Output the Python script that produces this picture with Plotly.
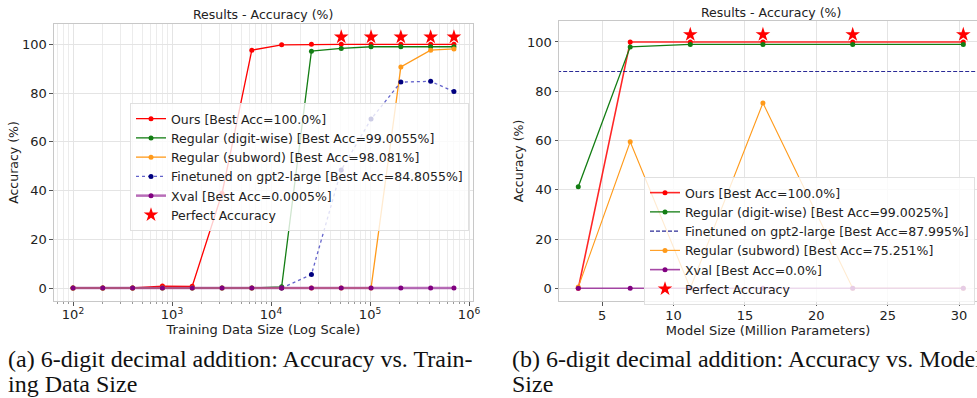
import plotly.graph_objects as go

# ---------------- data: left panel (training data size) ----------------
train_sizes = [100, 200, 400, 800, 1600, 3200, 6400, 12800, 25600, 51200, 102400, 204800, 409600, 704000]
ours_a = [0, 0, 0, 0.8, 0.7, 38.9, 97.6, 99.8, 100, 100, 100, 100, 100, 100]
digit_a = [0, 0, 0, 0, 0, 0, 0, 0.5, 97.2, 98.3, 99.0, 99.0, 99.0, 99.0]
subword_a = [0, 0, 0, 0, 0, 0, 0, 0, 0, 0, 0, 90.7, 97.6, 98.1]
ft_sizes = [12800, 25600, 51200, 102400, 204800, 409600, 704000]
ft_a = [0, 5.5, 48.4, 69.3, 84.5, 84.8, 80.6]
xval_a = [0] * 14
perfect_x_a = [51200, 102400, 204800, 409600, 704000]
perfect_y_a = [103, 103, 103, 103, 103]

# ---------------- data: right panel (model size) ----------------
model_sizes = [3.32, 6.96, 11.17, 16.26, 22.55, 30.3]
ours_b = [0, 100, 100, 100, 100, 100]
digit_b = [41.2, 98.0, 99.0, 99.0, 99.0, 99.0]
ft_best_b = 88.0
ft_span_b = [1.0, 32.0]
subword_b = [0.5, 59.5, 0, 75.25, 0, 0]
xval_b = [0, 0, 0, 0, 0, 0]
perfect_x_b = [11.17, 16.26, 22.55, 30.3]
perfect_y_b = [103, 103, 103, 103]

labels_a = ["Ours [Best Acc=100.0%]", "Regular (digit-wise) [Best Acc=99.0055%]",
            "Regular (subword) [Best Acc=98.081%]", "Finetuned on gpt2-large [Best Acc=84.8055%]",
            "Xval [Best Acc=0.0005%]", "Perfect Accuracy"]
labels_b = ["Ours [Best Acc=100.0%]", "Regular (digit-wise) [Best Acc=99.0025%]",
            "Finetuned on gpt2-large [Best Acc=87.995%]", "Regular (subword) [Best Acc=75.251%]",
            "Xval [Best Acc=0.0%]", "Perfect Accuracy"]

RED, GREEN, ORANGE, NAVY, PURPLE = "#ff0000", "#137d13", "#ff9a1a", "#00007f", "#800080"
FONT = "DejaVu Sans"

fig = go.Figure()

def line(x, y, name, color, xa, ya, legend, dash="solid", width=1.3, msize=5, lcolor=None):
    fig.add_trace(go.Scatter(
        x=x, y=y, name=name, mode="lines+markers", xaxis=xa, yaxis=ya, legend=legend,
        line=dict(color=lcolor or color, width=width, dash=dash),
        marker=dict(color=color, size=msize, symbol="circle")))

# left panel
line(train_sizes, ours_a, labels_a[0], RED, "x", "y", "legend")
line(train_sizes, digit_a, labels_a[1], GREEN, "x", "y", "legend")
line(train_sizes, subword_a, labels_a[2], ORANGE, "x", "y", "legend")
line(ft_sizes, ft_a, labels_a[3], NAVY, "x", "y", "legend", dash="dot", lcolor="rgba(60,60,190,0.8)")
line(train_sizes, xval_a, labels_a[4], PURPLE, "x", "y", "legend", width=2.5, lcolor="rgba(160,60,160,0.75)")
fig.add_trace(go.Scatter(x=perfect_x_a, y=perfect_y_a, name=labels_a[5], mode="markers",
                         xaxis="x", yaxis="y", legend="legend",
                         marker=dict(color=RED, size=11, symbol="star")))

# right panel
line(model_sizes, ours_b, labels_b[0], RED, "x2", "y2", "legend2", lcolor="rgba(255,0,0,0.85)", width=1.6)
line(model_sizes, digit_b, labels_b[1], GREEN, "x2", "y2", "legend2")
fig.add_trace(go.Scatter(x=ft_span_b, y=[ft_best_b, ft_best_b], name=labels_b[2], mode="lines",
                         xaxis="x2", yaxis="y2", legend="legend2",
                         line=dict(color="rgba(20,20,140,0.9)", width=1.1, dash="4px,2px")))
line(model_sizes, subword_b, labels_b[3], ORANGE, "x2", "y2", "legend2", width=1.1)
line(model_sizes, xval_b, labels_b[4], PURPLE, "x2", "y2", "legend2", width=1.6, lcolor="rgba(150,40,150,0.85)")
fig.add_trace(go.Scatter(x=perfect_x_b, y=perfect_y_b, name=labels_b[5], mode="markers",
                         xaxis="x2", yaxis="y2", legend="legend2",
                         marker=dict(color=RED, size=11, symbol="star")))

axis_common = dict(showline=True, linecolor="#c8c8c8", linewidth=1, mirror=True,
                   showgrid=True, gridcolor="#e4e4e4", gridwidth=1, zeroline=False,
                   ticks="outside", ticklen=3.5, tickcolor="#555", automargin=False,
                   tickfont=dict(family=FONT, size=13, color="#222"))

decades = [100, 1000, 10000, 100000, 1000000]
minor_vals = [m * d for d in [10, 100, 1000, 10000, 100000, 1000000] for m in range(2, 10)]

fig.update_layout(
    width=977, height=398, margin=dict(l=0, r=0, t=0, b=0),
    paper_bgcolor="white", plot_bgcolor="white",
    font=dict(family=FONT, size=12, color="#222"),
    xaxis=dict(axis_common, type="log", domain=[0.05527, 0.48413], anchor="y",
               range=[1.808, 6.04], tickmode="array", tickvals=decades, ticklabelstandoff=-2,
               ticktext=["10<sup>2</sup>", "10<sup>3</sup>", "10<sup>4</sup>", "10<sup>5</sup>", "10<sup>6</sup>"],
               minor=dict(tickmode="array", tickvals=minor_vals, showgrid=True,
                          gridcolor="#ececec", ticks="outside", ticklen=2, tickcolor="#999"),
               title=dict(text="Training Data Size (Log Scale)", standoff=1,
                          font=dict(family=FONT, size=13))),
    yaxis=dict(axis_common, domain=[0.2437, 0.9397], anchor="x", range=[-5.33, 108.33],
               tickvals=[0, 20, 40, 60, 80, 100],
               title=dict(text="Accuracy (%)", standoff=0, font=dict(family=FONT, size=12.5))),
    xaxis2=dict(axis_common, domain=[0.57216, 1.0], anchor="y2", range=[1.97, 31.26],
                tickvals=[5, 10, 15, 20, 25, 30], ticklabelstandoff=-1,
                title=dict(text="Model Size (Million Parameters)", standoff=1,
                           font=dict(family=FONT, size=13))),
    yaxis2=dict(axis_common, domain=[0.2437, 0.9472], anchor="x2", range=[-5.16, 108.5],
                tickvals=[0, 20, 40, 60, 80, 100],
                title=dict(text="Accuracy (%)", standoff=0, font=dict(family=FONT, size=12.5))),
    legend=dict(x=130 / 977, y=1 - 103 / 398, xanchor="left", yanchor="top",
                bgcolor="rgba(255,255,255,0.8)", bordercolor="#e0e0e0", borderwidth=1,
                font=dict(family=FONT, size=12.5), tracegroupgap=0, itemwidth=30),
    legend2=dict(x=644 / 977, y=1 - 177 / 398, xanchor="left", yanchor="top",
                 bgcolor="rgba(255,255,255,0.8)", bordercolor="#e0e0e0", borderwidth=1,
                 font=dict(family=FONT, size=12.5), tracegroupgap=0, itemwidth=30),
    showlegend=True,
)

cap_font = dict(family="Liberation Serif", size=24, color="#111")
annotations = [
    dict(text="Results - Accuracy (%)", x=263 / 977, y=1 - 15 / 398, xref="paper", yref="paper",
         xanchor="center", yanchor="middle", showarrow=False, font=dict(family=FONT, size=12.5)),
    dict(text="Results - Accuracy (%)", x=771 / 977, y=1 - 13 / 398, xref="paper", yref="paper",
         xanchor="center", yanchor="middle", showarrow=False, font=dict(family=FONT, size=12.5)),
    dict(text="(a) 6-digit decimal addition: Accuracy vs. Train-",
         x=6 / 977, y=1 - 359 / 398, xref="paper", yref="paper", xanchor="left", yanchor="middle",
         showarrow=False, font=cap_font),
    dict(text="ing Data Size",
         x=6 / 977, y=1 - 384 / 398, xref="paper", yref="paper", xanchor="left", yanchor="middle",
         showarrow=False, font=cap_font),
    dict(text="(b) 6-digit decimal addition: Accuracy vs. Model",
         x=510 / 977, y=1 - 359 / 398, xref="paper", yref="paper", xanchor="left", yanchor="middle",
         showarrow=False, font=cap_font),
    dict(text="Size",
         x=510 / 977, y=1 - 384 / 398, xref="paper", yref="paper", xanchor="left", yanchor="middle",
         showarrow=False, font=cap_font),
]
fig.update_layout(annotations=annotations)

fig.write_html("out.html")
